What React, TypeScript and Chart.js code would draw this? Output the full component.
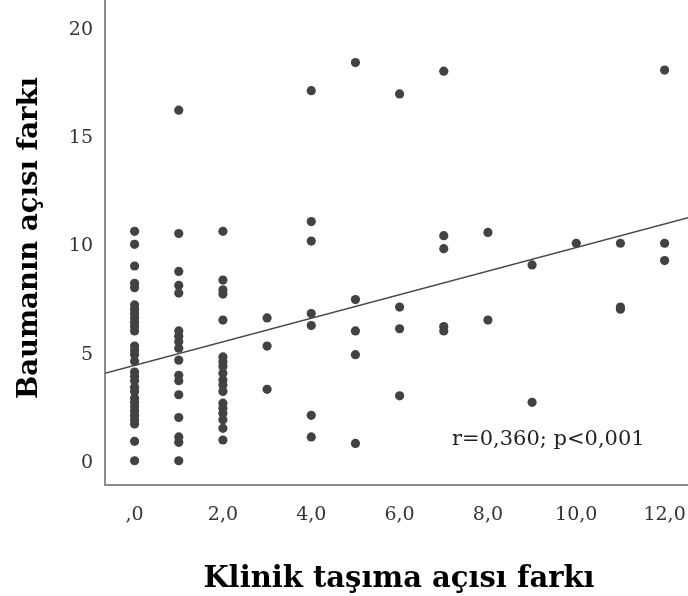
import React, { useEffect, useRef } from 'react';
import { Chart, registerables } from 'chart.js';

Chart.register(...registerables);

// x categories (Klinik taşıma açısı farkı) and the y values observed at each
const xGroups = [0, 1, 2, 3, 4, 5, 6, 7, 8, 9, 10, 11, 12];
const yAt0 = [10.7, 10.1, 9.1, 8.3, 8.1, 7.3, 7.1, 6.9, 6.7, 6.5, 6.3, 6.1, 5.4, 5.2, 5.0, 4.7, 4.2, 4.0, 3.8, 3.5, 3.3, 3.0, 2.8, 2.6, 2.4, 2.2, 2.0, 1.8, 1.0, 0.1];
const yAt1 = [16.3, 10.6, 8.85, 8.2, 7.85, 6.1, 5.85, 5.6, 5.3, 4.75, 4.05, 3.8, 3.15, 2.1, 1.2, 0.95, 0.1];
const yAt2 = [10.7, 8.45, 8.0, 7.8, 6.6, 4.9, 4.68, 4.45, 4.14, 3.83, 3.6, 3.3, 2.76, 2.53, 2.29, 1.99, 1.6, 1.06];
const yAt3 = [6.7, 5.4, 3.4];
const yAt4 = [17.2, 11.15, 10.25, 6.9, 6.35, 2.2, 1.2];
const yAt5 = [18.5, 7.55, 6.1, 5.0, 0.9];
const yAt6 = [17.05, 7.2, 6.2, 3.1];
const yAt7 = [18.1, 10.5, 9.9, 6.3, 6.1];
const yAt8 = [10.65, 6.6];
const yAt9 = [9.15, 2.8];
const yAt10 = [10.15];
const yAt11 = [10.15, 7.2, 7.1];
const yAt12 = [18.15, 10.15, 9.35];
const yGroups = [yAt0, yAt1, yAt2, yAt3, yAt4, yAt5, yAt6, yAt7, yAt8, yAt9, yAt10, yAt11, yAt12];

// fitted regression line end points
const fitLineX = [-0.67, 12.53];
const fitLineY = [4.14, 11.33];

const xTickValues = [0, 2, 4, 6, 8, 10, 12];
const xTickLabels = [',0', '2,0', '4,0', '6,0', '8,0', '10,0', '12,0'];
const yTickValues = [0, 5, 10, 15, 20];
const yTickLabels = ['0', '5', '10', '15', '20'];

const xTitle = 'Klinik taşıma açısı farkı';
const yTitle = 'Baumanın açısı farkı';
const statText = 'r=0,360; p<0,001';

const W = 688;
const H = 596;

export default function App() {
  const ref = useRef<HTMLCanvasElement | null>(null);

  useEffect(() => {
    const canvas = ref.current;
    if (!canvas) return;

    const points: { x: number; y: number }[] = [];
    xGroups.forEach((xv, i) => {
      yGroups[i].forEach((yv) => points.push({ x: xv, y: yv }));
    });
    const linePts = fitLineX.map((xv, i) => ({ x: xv, y: fitLineY[i] }));

    const textPlugin = {
      id: 'textPlugin',
      afterDraw(chart: any) {
        const ctx = chart.ctx;
        ctx.save();
        ctx.fillStyle = '#000';
        ctx.textAlign = 'center';
        ctx.textBaseline = 'alphabetic';
        ctx.font = 'bold 29px "DejaVu Serif"';
        ctx.fillText(xTitle, 399, 587);
        ctx.font = 'bold 27.5px "DejaVu Serif"';
        ctx.translate(37, 238);
        ctx.rotate(-Math.PI / 2);
        ctx.fillText(yTitle, 0, 0);
        ctx.restore();

        ctx.save();
        ctx.fillStyle = '#222';
        ctx.font = '21px "DejaVu Serif"';
        ctx.textAlign = 'left';
        ctx.textBaseline = 'alphabetic';
        ctx.fillText(statText, 452, 445);
        ctx.restore();
      },
    };

    const chart = new Chart(canvas, {
      type: 'scatter',
      data: {
        datasets: [
          {
            type: 'scatter',
            data: points,
            backgroundColor: '#424242',
            borderColor: '#424242',
            borderWidth: 0,
            pointRadius: 4.6,
            pointHoverRadius: 4.6,
            order: 1,
          },
          {
            type: 'line',
            data: linePts,
            borderColor: '#4a4a4a',
            borderWidth: 1.5,
            pointRadius: 0,
            fill: false,
            order: 2,
          } as any,
        ],
      },
      options: {
        responsive: false,
        animation: false,
        events: [],
        layout: { padding: 0, autoPadding: false },
        plugins: {
          legend: { display: false },
          tooltip: { enabled: false },
          title: { display: false },
        },
        scales: {
          x: {
            type: 'linear',
            min: -0.67,
            max: 12.53,
            grid: { display: false, drawTicks: false },
            border: { display: true, color: '#8c8c8c', width: 2 },
            afterBuildTicks: (scale: any) => {
              scale.ticks = xTickValues.map((v) => ({ value: v }));
            },
            afterFit: (scale: any) => {
              scale.height = 111;
              scale.paddingLeft = 0;
              scale.paddingRight = 0;
            },
            ticks: {
              padding: 19,
              color: '#333',
              font: { family: 'DejaVu Serif', size: 19 },
              maxRotation: 0,
              autoSkip: false,
              callback: (v: any) => {
                const i = xTickValues.indexOf(Number(v));
                return i >= 0 ? xTickLabels[i] : '';
              },
            },
          },
          y: {
            type: 'linear',
            min: -1.02,
            max: 21.39,
            grid: { display: false, drawTicks: false },
            border: { display: true, color: '#8c8c8c', width: 2 },
            afterBuildTicks: (scale: any) => {
              scale.ticks = yTickValues.map((v) => ({ value: v }));
            },
            afterFit: (scale: any) => {
              scale.width = 105;
              scale.paddingTop = 0;
              scale.paddingBottom = 0;
            },
            ticks: {
              padding: 12,
              color: '#333',
              font: { family: 'DejaVu Serif', size: 19 },
              autoSkip: false,
              callback: (v: any) => {
                const i = yTickValues.indexOf(Number(v));
                return i >= 0 ? yTickLabels[i] : '';
              },
            },
          },
        },
      },
      plugins: [textPlugin],
    });

    return () => {
      chart.destroy();
    };
  }, []);

  return (
    <div style={{ position: 'absolute', left: 0, top: 0, width: W, height: H, background: '#fff' }}>
      <canvas ref={ref} width={W} height={H} style={{ width: W, height: H, display: 'block' }} />
    </div>
  );
}
